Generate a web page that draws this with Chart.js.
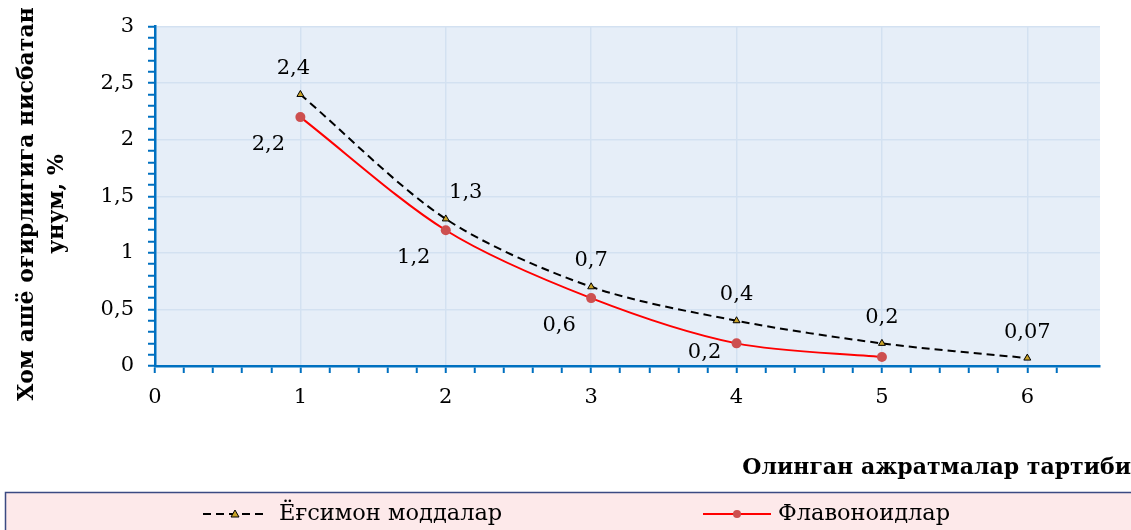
<!DOCTYPE html>
<html>
<head>
<meta charset="utf-8">
<script src="https://cdn.jsdelivr.net/npm/chart.js"></script>
<style>
  html, body { margin: 0; padding: 0; background: #fff; }
  #wrap { width: 1131px; height: 530px; position: relative; }
</style>
</head>
<body>
<div id="wrap"><canvas id="line-chart" width="1131" height="530"></canvas></div>
<script>
// values
const fatX = [1, 2, 3, 4, 5, 6];
const fatY = [2.4, 1.3, 0.7, 0.4, 0.2, 0.07];
const flavX = [1, 2, 3, 4, 5];
const flavY = [2.2, 1.2, 0.6, 0.2, 0.08];
const flavShown = [true, true, true, true, false];
const seriesNames = ['Ёғсимон моддалар', 'Флавоноидлар'];
const yTitle = ['Хом ашё оғирлигига нисбатан', 'унум, %'];
const xTitle = 'Олинган ажратмалар тартиби';

const SERIF = '"DejaVu Serif", serif';
const AXIS_BLUE = '#0070c0';
const GRID = '#d3e1f1';

const comma = v => String(+v.toFixed(2)).replace('.', ',');
const isStep = (v, s) => Math.abs(v / s - Math.round(v / s)) < 1e-6;

const decor = {
  id: 'decor',
  beforeDraw(chart) {
    const {ctx, chartArea: a} = chart;
    ctx.save();
    ctx.fillStyle = '#e6eef8';
    ctx.fillRect(a.left, a.top, a.right - a.left, a.bottom - a.top);
    ctx.restore();
  },
  afterDatasetsDraw(chart) {
    const {ctx} = chart;
    const xs = chart.scales.x, ys = chart.scales.y;
    ctx.save();
    ctx.font = '21px ' + SERIF;
    ctx.fillStyle = '#000';
    ctx.textAlign = 'center';
    ctx.textBaseline = 'middle';
    // Ёғсимон: labels above the point
    fatY.forEach((v, i) => {
      const dx = i === 1 ? 20 : (i === 0 ? -7 : 0);
      ctx.fillText(comma(v), xs.getPixelForValue(fatX[i]) + dx, ys.getPixelForValue(v) - 26);
    });
    // Флавоноидлар: labels below-left
    flavY.forEach((v, i) => {
      if (!flavShown[i]) return;
      let y = ys.getPixelForValue(v) + 27;
      y = Math.min(y, ys.bottom - 13);
      ctx.fillText(comma(v), xs.getPixelForValue(flavX[i]) - 32, y);
    });

    // axis titles
    ctx.font = 'bold 22px ' + SERIF;
    ctx.textAlign = 'center';
    ctx.save();
    ctx.translate(27, 204);
    ctx.rotate(-Math.PI / 2);
    ctx.fillText(yTitle[0], 0, 0);
    ctx.fillText(yTitle[1], 0, 30);
    ctx.restore();
    ctx.textAlign = 'right';
    ctx.fillText(xTitle, 1131, 468);

    // legend box
    ctx.fillStyle = '#fde9ea';
    ctx.fillRect(5, 492, 1126, 38);
    ctx.strokeStyle = '#3b4a82';
    ctx.lineWidth = 1.5;
    ctx.beginPath();
    ctx.moveTo(5.5, 530); ctx.lineTo(5.5, 492.5); ctx.lineTo(1131, 492.5);
    ctx.stroke();

    const ly = 514;
    const ds = chart.data.datasets;
    // item 1
    ctx.strokeStyle = ds[0].borderColor;
    ctx.lineWidth = ds[0].borderWidth;
    ctx.setLineDash(ds[0].borderDash);
    ctx.beginPath(); ctx.moveTo(203, ly); ctx.lineTo(267, ly); ctx.stroke();
    ctx.setLineDash([]);
    ctx.fillStyle = ds[0].pointBackgroundColor;
    ctx.beginPath();
    ctx.moveTo(235, ly - 4); ctx.lineTo(239, ly + 3); ctx.lineTo(231, ly + 3); ctx.closePath();
    ctx.fill(); ctx.lineWidth = 1; ctx.strokeStyle = '#000'; ctx.stroke();
    // item 2
    ctx.strokeStyle = ds[1].borderColor;
    ctx.lineWidth = ds[1].borderWidth;
    ctx.beginPath(); ctx.moveTo(703, ly); ctx.lineTo(771, ly); ctx.stroke();
    ctx.fillStyle = ds[1].pointBackgroundColor;
    ctx.beginPath(); ctx.arc(737, ly, 4, 0, Math.PI * 2); ctx.fill();

    ctx.fillStyle = '#000';
    ctx.font = '22.5px ' + SERIF;
    ctx.textAlign = 'left';
    ctx.textBaseline = 'middle';
    ctx.fillText(ds[0].label, 279, ly);
    ctx.fillText(ds[1].label, 778, ly);
    ctx.restore();
  }
};

const ctx = document.getElementById('line-chart').getContext('2d');
new Chart(ctx, {
  type: 'line',
  data: {
    datasets: [
      {
        label: seriesNames[0],
        data: fatX.map((x, i) => ({x: x, y: fatY[i]})),
        borderColor: '#000',
        borderWidth: 2,
        borderDash: [8, 5],
        tension: 0.3,
        pointStyle: 'triangle',
        pointRadius: 4,
        pointBackgroundColor: '#c9a227',
        pointBorderColor: '#000',
        pointBorderWidth: 1
      },
      {
        label: seriesNames[1],
        data: flavX.map((x, i) => ({x: x, y: flavY[i]})),
        borderColor: '#ff0000',
        borderWidth: 2,
        tension: 0.3,
        pointStyle: 'circle',
        pointRadius: 5,
        pointBackgroundColor: '#cd4f4f',
        pointBorderColor: '#cd4f4f',
        pointBorderWidth: 0
      }
    ]
  },
  options: {
    responsive: false,
    animation: false,
    devicePixelRatio: 1,
    layout: { padding: { top: 13, right: 31, left: 0, bottom: 0 } },
    plugins: {
      legend: { display: false },
      tooltip: { enabled: false }
    },
    scales: {
      x: {
        type: 'linear',
        min: 0,
        max: 6.5,
        afterFit: s => { s.height = 164; },
        border: { color: AXIS_BLUE, width: 2.5 },
        grid: {
          color: c => (c.tick && isStep(c.tick.value, 1) && c.tick.value > 0) ? GRID : 'rgba(0,0,0,0)',
          tickColor: c => (c.tick && isStep(c.tick.value, 0.2)) ? AXIS_BLUE : 'rgba(0,0,0,0)',
          lineWidth: 1.5,
          tickWidth: 2,
          tickLength: 7
        },
        ticks: {
          stepSize: 0.2,
          autoSkip: false,
          maxRotation: 0,
          padding: 12,
          color: '#000',
          font: { family: SERIF, size: 21 },
          callback: v => isStep(v, 1) && v <= 6 ? comma(v) : ''
        }
      },
      y: {
        min: 0,
        max: 3,
        afterFit: s => { s.width = 155; },
        border: { color: AXIS_BLUE, width: 2.5 },
        grid: {
          color: c => (c.tick && isStep(c.tick.value, 0.5) && c.tick.value > 0) ? GRID : 'rgba(0,0,0,0)',
          tickColor: AXIS_BLUE,
          lineWidth: 1.5,
          tickWidth: 2,
          tickLength: 7
        },
        ticks: {
          stepSize: 0.1,
          autoSkip: false,
          padding: 14,
          color: '#000',
          font: { family: SERIF, size: 21 },
          callback: v => isStep(v, 0.5) ? comma(v) : ''
        }
      }
    }
  },
  plugins: [decor]
});
</script>
</body>
</html>
